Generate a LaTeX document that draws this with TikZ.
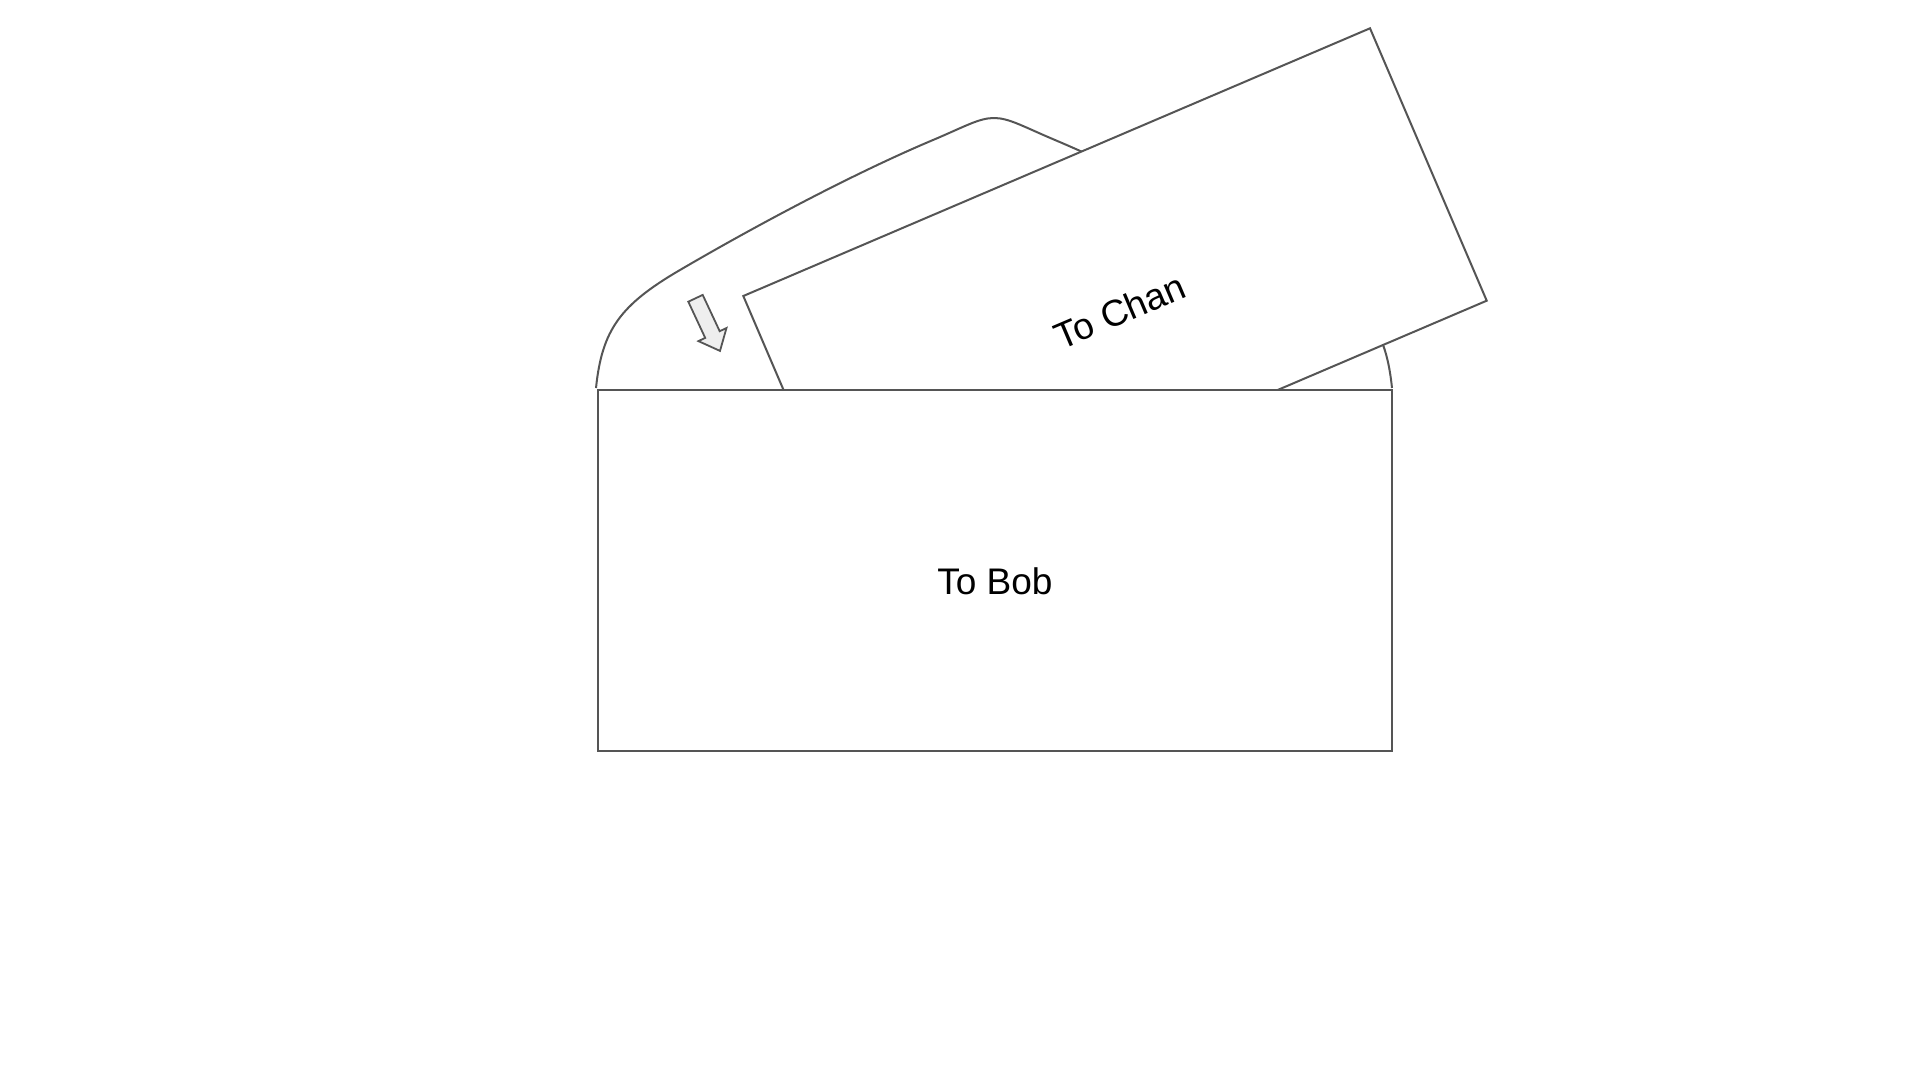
\documentclass[tikz,border=0pt]{standalone}
\usepackage{fontspec}
\setmainfont{Liberation Sans}
\definecolor{linegray}{HTML}{555555}
\definecolor{arrowfill}{HTML}{EEEEEE}
\begin{document}
\begin{tikzpicture}[x=1pt,y=-1pt,
  outline/.style={draw=linegray,line width=2pt,line join=miter},
  card/.style={outline,fill=white},
  lbl/.style={font=\fontsize{37}{44}\selectfont,text=black,inner sep=0pt},
  hint/.style={draw=linegray,line width=1.8pt,fill=arrowfill,line join=miter}]
\useasboundingbox (0,0) rectangle (1920,1080);
% envelope flap (behind)
\draw[outline] (596,388) .. controls (602,330) and (620,305) .. (680,270)
  .. controls (750,229) and (850,175) .. (933,140)
  .. controls (965,126.5) and (979,118) .. (994,118)
  .. controls (1009,118) and (1023,126.5) .. (1055,140)
  .. controls (1138,175) and (1238,229) .. (1308,270)
  .. controls (1368,305) and (1386,330) .. (1392,388);
% letter "To Chan"
\coordinate (ca) at (743.3,296);
\coordinate (cb) at (1370,28.3);
\coordinate (cc) at (1486.7,300.7);
\coordinate (cd) at (860,568.4);
\draw[card] (ca) -- (cb) -- (cc) -- (cd) -- cycle;
% envelope body "To Bob"
\coordinate (ba) at (597.7,390.3);
\coordinate (bb) at (1392.3,750.6);
\draw[card] (ba) rectangle (bb);
% insertion arrow
\draw[hint] (688.3,301.7) -- (702.7,294.9) -- (719.7,331.2) -- (726.5,328.0)
  -- (720,350.9) -- (698.4,341.1) -- (705.2,337.9) -- cycle;
% labels
\node[lbl] (bob) at (995,581.5) {To Bob};
\node[lbl,rotate=23.1] (chan) at (1120,311) {To Chan};
\end{tikzpicture}
\end{document}
